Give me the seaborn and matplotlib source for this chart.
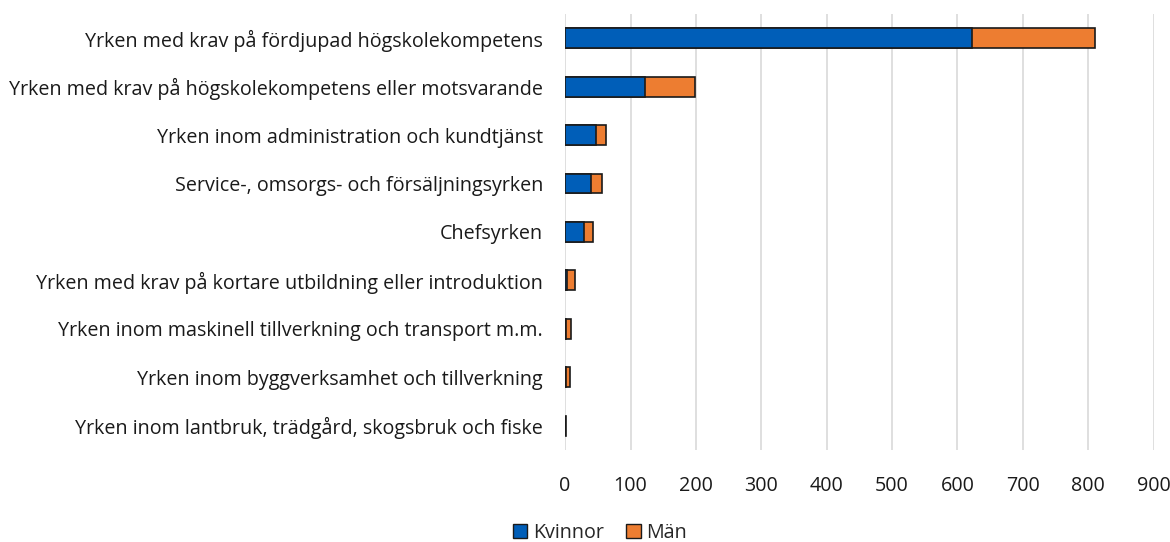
import matplotlib
matplotlib.use("Agg")
import matplotlib.pyplot as plt
import seaborn as sns
import pandas as pd
import numpy as np
from matplotlib.patches import Patch

categories = [
    "Yrken med krav på fördjupad högskolekompetens",
    "Yrken med krav på högskolekompetens eller motsvarande",
    "Yrken inom administration och kundtjänst",
    "Service-, omsorgs- och försäljningsyrken",
    "Chefsyrken",
    "Yrken med krav på kortare utbildning eller introduktion",
    "Yrken inom maskinell tillverkning och transport m.m.",
    "Yrken inom byggverksamhet och tillverkning",
    "Yrken inom lantbruk, trädgård, skogsbruk och fiske",
]
kvinnor = [622, 122, 48, 39, 29, 3, 1, 1, 0]
man = [188, 77, 15, 17, 14, 12, 8, 6, 1]
xticks = [0, 100, 200, 300, 400, 500, 600, 700, 800, 900]

sns.set_theme(style="white")
plt.rcParams["font.family"] = ["Open Sans", "DejaVu Sans"]

df = pd.DataFrame({"cat": categories, "Kvinnor": kvinnor, "Män": man})
df["total"] = df["Kvinnor"] + df["Män"]

blue = "#005EB8"
orange = "#ED7D31"
fs = 14.2

fig = plt.figure(figsize=(11.7, 5.42), dpi=100)
ax = fig.add_axes([0.483, 0.170, 0.503, 0.804])

sns.barplot(data=df, y="cat", x="total", orient="h", color=orange, saturation=1,
            width=0.41, edgecolor="#1a1a1a", linewidth=1.2, ax=ax)
sns.barplot(data=df, y="cat", x="Kvinnor", orient="h", color=blue, saturation=1,
            width=0.41, edgecolor="#1a1a1a", linewidth=1.2, ax=ax)

ax.set_xlim(0, 900)
ax.set_ylim(8.5, -0.5)
ax.set_xticks(xticks)
ax.set_xticklabels([str(t) for t in xticks], fontsize=fs, color="#1a1a1a")
ax.tick_params(axis="y", labelsize=fs, colors="#1a1a1a", length=0, pad=16)
ax.tick_params(axis="x", length=0, pad=19)
ax.set_xlabel("")
ax.set_ylabel("")
ax.xaxis.grid(True, color="#d9d9d9", linewidth=1.2)
ax.set_axisbelow(True)
for s in ax.spines.values():
    s.set_visible(False)

handles = [Patch(facecolor=blue, edgecolor="#1a1a1a", label="Kvinnor"),
           Patch(facecolor=orange, edgecolor="#1a1a1a", label="Män")]
fig.legend(handles=handles, loc="center", bbox_to_anchor=(600/1170, 1 - 533/542),
           ncol=2, frameon=False, fontsize=fs, handlelength=0.75, handleheight=0.75,
           handletextpad=0.3, columnspacing=1.1)

fig.savefig("out.png", dpi=100)
